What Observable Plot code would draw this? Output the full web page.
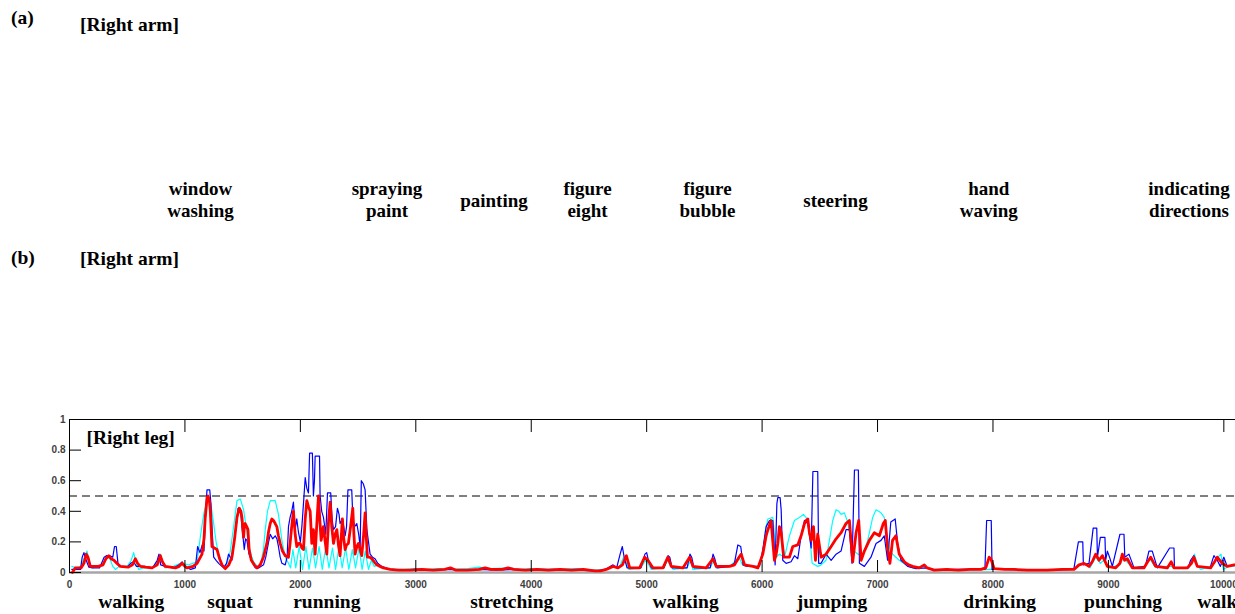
<!DOCTYPE html>
<html>
<head>
<meta charset="utf-8">
<script src="https://cdn.jsdelivr.net/npm/d3@7"></script>
<script src="https://cdn.jsdelivr.net/npm/@observablehq/plot@0.6"></script>
<style>
  html, body { margin: 0; padding: 0; background: #fff; overflow: hidden; }
  #wrap { position: relative; width: 1235px; height: 614px; background: #fff;
          font-family: "Liberation Serif", "Times New Roman", serif; font-weight: bold; color: #000; }
  .lab { position: absolute; white-space: nowrap; }
  .panel { font-size: 19.5px; line-height: 19.5px; }
  .act { font-size: 19px; line-height: 22px; width: 200px; text-align: center; }
  #plot { position: absolute; left: 0; top: 400px; }
</style>
</head>
<body>
<div id="wrap"><div id="plot"></div></div>
<script>
// ---------- data ----------
const panelLetters = ["(a)", "(b)"];
const panelTitles = ["[Right arm]", "[Right arm]", "[Right leg]"];
const armActivities = ["window\nwashing", "spraying\npaint", "painting", "figure\neight", "figure\nbubble", "steering", "hand\nwaving", "indicating\ndirections"];
const legActivities = ["walking", "squat", "running", "stretching", "walking", "jumping", "drinking", "punching", "walking"];
const legActivityX = [535, 1390, 2229, 3831, 5337, 6606, 8058, 9127, 9770];
const xTicks = [0, 1000, 2000, 3000, 4000, 5000, 6000, 7000, 8000, 9000, 10000];
const yTicks = [0, 0.2, 0.4, 0.6, 0.8, 1];
const threshold = 0.5;

const red = [[25,0.00],[50,0.03],[100,0.03],[125,0.06],[145,0.12],[160,0.10],[180,0.04],[250,0.04],[290,0.05],[315,0.09],[340,0.11],[360,0.09],[385,0.08],[410,0.06],[440,0.04],[510,0.035],[545,0.05],[571,0.09],[590,0.06],[614,0.04],[660,0.035],[715,0.03],[760,0.05],[787,0.11],[805,0.07],[830,0.04],[917,0.03],[950,0.04],[975,0.06],[1000,0.04],[1018,0.03],[1070,0.04],[1105,0.06],[1148,0.12],[1165,0.22],[1176,0.36],[1192,0.49],[1200,0.50],[1212,0.47],[1220,0.40],[1234,0.17],[1255,0.16],[1278,0.15],[1300,0.09],[1321,0.05],[1350,0.025],[1380,0.05],[1407,0.10],[1430,0.22],[1451,0.36],[1470,0.42],[1485,0.40],[1494,0.36],[1508,0.23],[1515,0.30],[1522,0.32],[1535,0.30],[1546,0.28],[1556,0.15],[1575,0.08],[1600,0.05],[1624,0.03],[1652,0.05],[1680,0.10],[1710,0.19],[1725,0.27],[1739,0.32],[1753,0.35],[1767,0.34],[1782,0.32],[1796,0.30],[1810,0.24],[1825,0.19],[1845,0.14],[1869,0.11],[1897,0.10],[1911,0.19],[1925,0.30],[1940,0.40],[1955,0.25],[1969,0.17],[1985,0.19],[1998,0.19],[2013,0.16],[2027,0.15],[2042,0.35],[2056,0.47],[2070,0.43],[2085,0.40],[2099,0.19],[2113,0.28],[2128,0.12],[2145,0.35],[2157,0.50],[2168,0.35],[2180,0.21],[2200,0.30],[2215,0.20],[2229,0.12],[2245,0.35],[2258,0.46],[2272,0.30],[2287,0.19],[2302,0.25],[2316,0.28],[2330,0.18],[2344,0.11],[2364,0.35],[2376,0.22],[2388,0.15],[2400,0.18],[2416,0.19],[2435,0.30],[2454,0.42],[2464,0.25],[2474,0.12],[2490,0.17],[2503,0.19],[2518,0.15],[2532,0.11],[2548,0.25],[2561,0.39],[2572,0.22],[2581,0.10],[2600,0.10],[2619,0.09],[2640,0.07],[2662,0.05],[2690,0.04],[2719,0.03],[2777,0.02],[2850,0.015],[2950,0.015],[3050,0.02],[3150,0.015],[3250,0.02],[3300,0.03],[3350,0.015],[3450,0.015],[3550,0.02],[3600,0.03],[3650,0.02],[3750,0.02],[3800,0.03],[3850,0.02],[3950,0.015],[4050,0.02],[4150,0.015],[4250,0.02],[4350,0.015],[4450,0.02],[4550,0.01],[4600,0.01],[4650,0.02],[4709,0.04],[4752,0.03],[4790,0.05],[4824,0.11],[4853,0.03],[4939,0.03],[4983,0.10],[5011,0.08],[5055,0.03],[5141,0.03],[5184,0.10],[5213,0.04],[5314,0.03],[5372,0.10],[5401,0.04],[5516,0.03],[5574,0.09],[5603,0.04],[5718,0.04],[5761,0.05],[5800,0.10],[5819,0.12],[5848,0.05],[5920,0.04],[5963,0.03],[6006,0.12],[6035,0.24],[6050,0.28],[6078,0.34],[6093,0.20],[6107,0.08],[6122,0.12],[6136,0.19],[6150,0.30],[6165,0.26],[6188,0.10],[6222,0.10],[6237,0.10],[6266,0.17],[6309,0.18],[6338,0.24],[6367,0.32],[6381,0.34],[6396,0.35],[6410,0.26],[6425,0.21],[6445,0.30],[6462,0.08],[6482,0.25],[6511,0.10],[6554,0.12],[6598,0.17],[6641,0.22],[6684,0.26],[6727,0.32],[6756,0.34],[6785,0.07],[6814,0.26],[6837,0.34],[6858,0.08],[6886,0.14],[6929,0.21],[6972,0.26],[7016,0.24],[7050,0.32],[7067,0.34],[7087,0.16],[7107,0.06],[7130,0.21],[7159,0.24],[7188,0.12],[7232,0.07],[7270,0.05],[7304,0.04],[7361,0.03],[7405,0.05],[7430,0.03],[7491,0.015],[7600,0.02],[7700,0.015],[7800,0.02],[7895,0.02],[7938,0.03],[7967,0.10],[7982,0.09],[8010,0.025],[8100,0.02],[8183,0.02],[8300,0.015],[8469,0.015],[8600,0.02],[8702,0.02],[8745,0.05],[8789,0.06],[8832,0.04],[8860,0.07],[8890,0.12],[8919,0.08],[8948,0.11],[8991,0.04],[9063,0.03],[9100,0.06],[9121,0.12],[9140,0.08],[9164,0.09],[9207,0.03],[9308,0.03],[9340,0.07],[9366,0.10],[9409,0.04],[9510,0.03],[9544,0.07],[9568,0.03],[9682,0.03],[9720,0.06],[9741,0.10],[9770,0.04],[9885,0.03],[9920,0.07],[9943,0.10],[9986,0.06],[10029,0.04],[10090,0.05]];

const blue = [[20,0.02],[60,0.02],[95,0.02],[110,0.10],[125,0.13],[140,0.09],[167,0.035],[200,0.03],[260,0.03],[300,0.10],[320,0.11],[350,0.11],[375,0.10],[390,0.17],[405,0.17],[420,0.06],[440,0.04],[500,0.035],[530,0.06],[555,0.07],[580,0.04],[650,0.04],[720,0.03],[760,0.08],[775,0.12],[790,0.05],[830,0.04],[900,0.03],[950,0.05],[975,0.07],[1000,0.04],[1050,0.02],[1090,0.03],[1110,0.17],[1130,0.13],[1150,0.18],[1165,0.14],[1180,0.40],[1191,0.54],[1215,0.54],[1225,0.45],[1234,0.30],[1249,0.10],[1270,0.08],[1292,0.06],[1335,0.03],[1360,0.06],[1378,0.12],[1407,0.08],[1425,0.20],[1451,0.34],[1460,0.42],[1480,0.42],[1494,0.30],[1514,0.15],[1525,0.22],[1537,0.21],[1555,0.12],[1581,0.07],[1610,0.03],[1638,0.03],[1681,0.05],[1700,0.10],[1725,0.20],[1739,0.25],[1760,0.22],[1782,0.24],[1797,0.22],[1810,0.17],[1825,0.10],[1840,0.06],[1869,0.05],[1885,0.10],[1897,0.30],[1911,0.36],[1925,0.40],[1940,0.46],[1955,0.28],[1969,0.35],[1984,0.26],[2000,0.20],[2013,0.30],[2027,0.45],[2042,0.62],[2056,0.55],[2070,0.52],[2080,0.78],[2104,0.78],[2113,0.50],[2122,0.60],[2128,0.76],[2166,0.76],[2171,0.50],[2185,0.40],[2200,0.36],[2220,0.25],[2235,0.52],[2263,0.52],[2275,0.35],[2287,0.28],[2305,0.30],[2321,0.42],[2335,0.38],[2344,0.32],[2365,0.35],[2388,0.24],[2400,0.30],[2412,0.54],[2445,0.54],[2455,0.35],[2470,0.30],[2489,0.32],[2505,0.25],[2518,0.17],[2528,0.60],[2545,0.58],[2561,0.54],[2576,0.28],[2590,0.20],[2604,0.12],[2625,0.10],[2647,0.09],[2670,0.06],[2705,0.04],[2777,0.02],[2900,0.015],[3000,0.02],[3150,0.015],[3300,0.02],[3450,0.015],[3550,0.02],[3700,0.015],[3850,0.02],[4000,0.015],[4200,0.02],[4400,0.015],[4560,0.01],[4640,0.02],[4709,0.05],[4740,0.03],[4770,0.12],[4789,0.17],[4805,0.10],[4830,0.03],[4950,0.03],[4985,0.12],[5000,0.13],[5015,0.08],[5040,0.03],[5150,0.03],[5185,0.11],[5200,0.10],[5220,0.03],[5350,0.03],[5375,0.12],[5390,0.10],[5410,0.03],[5550,0.03],[5575,0.12],[5590,0.09],[5610,0.03],[5720,0.04],[5760,0.06],[5790,0.18],[5815,0.17],[5835,0.05],[5870,0.04],[5977,0.04],[6006,0.15],[6035,0.30],[6064,0.34],[6093,0.34],[6113,0.05],[6128,0.45],[6136,0.49],[6156,0.49],[6165,0.41],[6179,0.08],[6208,0.06],[6251,0.07],[6280,0.11],[6309,0.09],[6338,0.24],[6367,0.34],[6396,0.32],[6425,0.16],[6440,0.66],[6482,0.66],[6490,0.06],[6511,0.06],[6554,0.12],[6598,0.08],[6641,0.12],[6684,0.14],[6727,0.28],[6756,0.28],[6779,0.06],[6800,0.67],[6834,0.67],[6843,0.06],[6886,0.04],[6943,0.10],[6987,0.19],[7030,0.21],[7058,0.24],[7087,0.08],[7115,0.33],[7153,0.35],[7174,0.19],[7203,0.08],[7261,0.04],[7333,0.025],[7420,0.03],[7500,0.015],[7700,0.02],[7930,0.02],[7945,0.34],[7985,0.34],[7992,0.02],[8100,0.02],[8300,0.015],[8500,0.015],[8700,0.02],[8740,0.20],[8778,0.20],[8783,0.05],[8832,0.06],[8868,0.29],[8899,0.29],[8905,0.10],[8930,0.23],[8970,0.23],[8976,0.08],[8991,0.14],[9010,0.10],[9034,0.04],[9100,0.25],[9135,0.25],[9142,0.10],[9178,0.12],[9222,0.03],[9320,0.04],[9351,0.14],[9380,0.14],[9424,0.03],[9530,0.16],[9568,0.16],[9572,0.03],[9690,0.03],[9712,0.08],[9741,0.11],[9770,0.04],[9880,0.03],[9914,0.11],[9943,0.08],[9970,0.04],[10000,0.10],[10029,0.04],[10090,0.05]];

const cyan = [[20,0.04],[60,0.03],[100,0.04],[130,0.10],[152,0.14],[175,0.06],[196,0.03],[260,0.04],[300,0.06],[330,0.10],[350,0.09],[375,0.04],[398,0.02],[430,0.04],[500,0.04],[535,0.08],[556,0.13],[575,0.07],[600,0.02],[640,0.03],[720,0.03],[760,0.07],[787,0.12],[810,0.06],[830,0.03],[900,0.04],[960,0.06],[975,0.06],[1032,0.05],[1105,0.07],[1133,0.23],[1162,0.38],[1191,0.47],[1220,0.47],[1249,0.32],[1270,0.20],[1292,0.12],[1320,0.05],[1344,0.03],[1370,0.07],[1393,0.14],[1422,0.30],[1451,0.47],[1480,0.48],[1508,0.41],[1530,0.30],[1551,0.19],[1575,0.11],[1595,0.07],[1638,0.03],[1660,0.07],[1680,0.15],[1696,0.28],[1715,0.40],[1739,0.47],[1782,0.47],[1810,0.38],[1840,0.21],[1869,0.10],[1897,0.06],[1915,0.03],[1935,0.15],[1960,0.03],[1990,0.17],[2018,0.02],[2048,0.17],[2075,0.02],[2105,0.16],[2132,0.03],[2162,0.17],[2190,0.02],[2220,0.17],[2248,0.03],[2278,0.16],[2305,0.02],[2335,0.17],[2362,0.03],[2392,0.16],[2420,0.02],[2450,0.15],[2478,0.03],[2508,0.16],[2535,0.02],[2562,0.14],[2590,0.02],[2615,0.08],[2640,0.04],[2680,0.05],[2720,0.03],[2780,0.02],[2900,0.02],[3000,0.025],[3100,0.02],[3200,0.025],[3300,0.02],[3450,0.025],[3550,0.035],[3650,0.025],[3800,0.03],[3900,0.02],[4000,0.025],[4200,0.02],[4400,0.025],[4560,0.015],[4650,0.02],[4700,0.04],[4760,0.03],[4800,0.10],[4825,0.06],[4845,0.02],[4950,0.03],[4990,0.08],[5010,0.06],[5040,0.02],[5150,0.03],[5180,0.08],[5200,0.05],[5230,0.02],[5350,0.03],[5380,0.08],[5400,0.02],[5550,0.03],[5580,0.08],[5600,0.03],[5720,0.04],[5800,0.10],[5830,0.05],[5880,0.04],[5977,0.04],[6006,0.12],[6030,0.28],[6050,0.35],[6093,0.36],[6110,0.22],[6122,0.10],[6150,0.12],[6194,0.10],[6237,0.24],[6280,0.34],[6323,0.36],[6358,0.38],[6381,0.36],[6410,0.28],[6433,0.06],[6482,0.04],[6511,0.05],[6554,0.08],[6583,0.21],[6612,0.34],[6641,0.41],[6665,0.40],[6684,0.38],[6713,0.39],[6741,0.33],[6770,0.20],[6800,0.14],[6828,0.12],[6872,0.11],[6915,0.21],[6958,0.36],[6987,0.41],[7010,0.40],[7030,0.39],[7058,0.36],[7087,0.22],[7110,0.14],[7130,0.12],[7188,0.08],[7246,0.05],[7304,0.03],[7400,0.04],[7450,0.02],[7600,0.02],[7800,0.015],[8000,0.02],[8200,0.02],[8500,0.015],[8700,0.02],[8760,0.05],[8800,0.06],[8840,0.03],[8890,0.10],[8930,0.06],[8960,0.08],[9000,0.03],[9100,0.05],[9130,0.10],[9160,0.07],[9210,0.03],[9310,0.04],[9360,0.09],[9400,0.04],[9540,0.04],[9580,0.03],[9700,0.03],[9745,0.12],[9775,0.04],[9800,0.02],[9890,0.04],[9935,0.09],[9975,0.12],[9995,0.02],[10040,0.04],[10090,0.04]];

// ---------- layout (pixels) ----------
const panelLetterPos = [[11, 7.7], [11, 247.7]];
const panelTitlePos = [[80, 15.4], [80, 248.7]];
const armCenters = [200.5, 387, 494, 587.5, 707.5, 835.5, 988.8, 1189];

const wrap = document.getElementById("wrap");
function addLabel(text, cls, left, top) {
  const d = document.createElement("div");
  d.className = "lab " + cls;
  d.style.left = left + "px";
  d.style.top = top + "px";
  d.innerHTML = text.split("\n").join("<br>");
  wrap.appendChild(d);
}
panelLetters.forEach((t, i) => addLabel(t, "panel", panelLetterPos[i][0], panelLetterPos[i][1]));
panelTitles.slice(0, 2).forEach((t, i) => addLabel(t, "panel", panelTitlePos[i][0], panelTitlePos[i][1]));
armActivities.forEach((t, i) => {
  const twoLine = t.includes("\n");
  addLabel(t, "act", armCenters[i] - 100, twoLine ? 177.6 : 189.6);
});

// ---------- leg plot ----------
const legLabels = legActivities.map((name, i) => ({name, x: legActivityX[i]}));
const legCentered = legLabels.slice(0, -1);
const legLast = legLabels.slice(-1);
const serif = "Liberation Serif, Times New Roman, serif";
const sans = "Liberation Sans, Arial, sans-serif";

const chart = Plot.plot({
  width: 1235,
  height: 214,
  marginLeft: 69,
  marginRight: 0,
  marginTop: 19,
  marginBottom: 42,
  style: {background: "#fff", overflow: "visible"},
  x: {domain: [0, 10101]},
  y: {domain: [0, 1]},
  marks: [
    Plot.ruleY([0], {stroke: "#a6a6a6", strokeWidth: 2.5}),
    Plot.ruleY([threshold], {stroke: "#000", strokeWidth: 1, strokeDasharray: "8,5"}),
    Plot.line(cyan, {x: d => d[0], y: d => d[1], stroke: "#00ffff", strokeWidth: 1.2}),
    Plot.line(blue, {x: d => d[0], y: d => d[1], stroke: "#0000ff", strokeWidth: 1.2}),
    Plot.line(red, {x: d => d[0], y: d => d[1], stroke: "#ff0000", strokeWidth: 2.8}),
    Plot.ruleY([1], {stroke: "#000", strokeWidth: 1}),
    Plot.ruleX([0], {stroke: "#000", strokeWidth: 1}),
    Plot.axisY({ticks: yTicks, tickSize: -12, tickPadding: 16, tickFormat: d => String(d), label: null,
                fontSize: 10, fontFamily: sans, fill: "#404040"}),
    Plot.axisX({anchor: "bottom", ticks: xTicks, tickSize: -12, tickPadding: 20, tickFormat: d => String(d), label: null,
                fontSize: 10, fontFamily: sans, fill: "#404040"}),
    Plot.axisX({anchor: "top", ticks: xTicks, tickSize: -12, tickFormat: () => "", label: null}),
    Plot.text([panelTitles[2]], {frameAnchor: "top-left", dx: 17, dy: 24, textAnchor: "start", lineAnchor: "bottom",
                fontFamily: serif, fontWeight: "bold", fontSize: 19.5, fill: "#000"}),
    Plot.text(legCentered, {x: "x", text: "name", frameAnchor: "bottom", dy: 35, lineAnchor: "bottom", textAnchor: "middle",
                fontFamily: serif, fontWeight: "bold", fontSize: 19.5, fill: "#000"}),
    Plot.text(legLast, {x: "x", text: "name", frameAnchor: "bottom", dy: 35, lineAnchor: "bottom", textAnchor: "start",
                fontFamily: serif, fontWeight: "bold", fontSize: 19.5, fill: "#000"})
  ]
});
document.getElementById("plot").appendChild(chart);
</script>
</body>
</html>
